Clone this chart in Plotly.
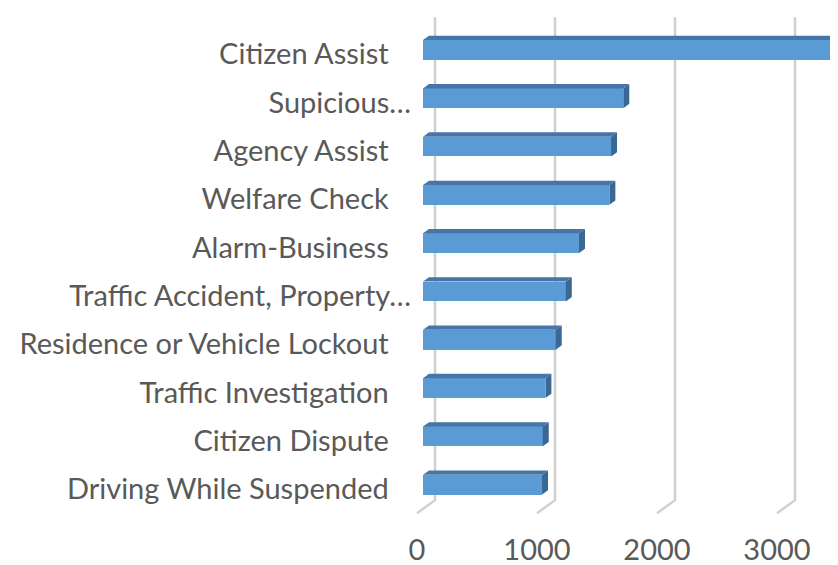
import plotly.graph_objects as go

# calls for service, top 10
categories = ["Citizen Assist", "Supicious…", "Agency Assist", "Welfare Check",
              "Alarm-Business", "Traffic Accident, Property…",
              "Residence or Vehicle Lockout", "Traffic Investigation",
              "Citizen Dispute", "Driving While Suspended"]
counts = [3417, 1669, 1567, 1553, 1300, 1190, 1106, 1020, 998, 992]
x_ticks = [0, 1000, 2000, 3000]

# fake 3d: floor depth expressed in axis units
DEPTH_X = 150
DEPTH_Y = 0.269
BAR_W = 0.41

FRONT = "#5B9BD5"
TOP = "#4676A8"
SIDE = "#3B6794"
GRID = "#D0D0D0"
TXT = "#595959"

n = len(categories)
fig = go.Figure()

# back-wall gridlines with the slanted floor piece
for t in x_ticks:
    path = (f"M {t + DEPTH_X},{-0.5 - DEPTH_Y} "
            f"L {t + DEPTH_X},{n - 0.5 - DEPTH_Y} "
            f"L {t},{n - 0.5}")
    fig.add_shape(type="path", path=path, xref="x", yref="y", layer="below",
                  line=dict(color=GRID, width=2.5))

# front faces
y_front = [i - DEPTH_Y / 3 for i in range(n)]
fig.add_trace(go.Bar(x=counts, y=y_front, base=DEPTH_X / 3, orientation="h",
                     width=BAR_W, marker=dict(color=FRONT, line=dict(width=0)),
                     hoverinfo="skip", showlegend=False))

# top and side faces
dx, dy = DEPTH_X / 3, DEPTH_Y / 3
tx, ty, sx, sy = [], [], [], []
for yc, v in zip(y_front, counts):
    x0, x1 = dx, dx + v
    yt, yb = yc - BAR_W / 2, yc + BAR_W / 2
    tx += [x0, x1, x1 + dx, x0 + dx, x0, None]
    ty += [yt, yt, yt - dy, yt - dy, yt, None]
    sx += [x1, x1, x1 + dx, x1 + dx, x1, None]
    sy += [yt, yb, yb - dy, yt - dy, yt, None]

fig.add_trace(go.Scatter(x=tx, y=ty, mode="lines", fill="toself", fillcolor=TOP,
                         line=dict(width=0, color=TOP), hoverinfo="skip", showlegend=False))
fig.add_trace(go.Scatter(x=sx, y=sy, mode="lines", fill="toself", fillcolor=SIDE,
                         line=dict(width=0, color=SIDE), hoverinfo="skip", showlegend=False))

tick_text = [c if c.endswith("…") else c + "\u00a0\u00a0\u00a0" for c in categories]

# page body keeps its 8px margin, so the figure is 8px smaller each way
fig.update_layout(
    width=830, height=557,
    margin=dict(l=404, r=0, t=0, b=35),
    paper_bgcolor="white", plot_bgcolor="white",
    font=dict(family="Lato, Carlito, Calibri, sans-serif", size=29, color=TXT),
    bargap=0,
    xaxis=dict(range=[-41.67, 3508.33], tickvals=x_ticks, showgrid=False,
               zeroline=False, showline=False, ticks="", fixedrange=True,
               automargin=False),
    yaxis=dict(range=[9.849, -0.959], tickvals=list(range(n)), ticktext=tick_text,
               showgrid=False, zeroline=False, showline=False, ticks="", fixedrange=True,
               automargin=False),
)

fig.write_html("out.html")
